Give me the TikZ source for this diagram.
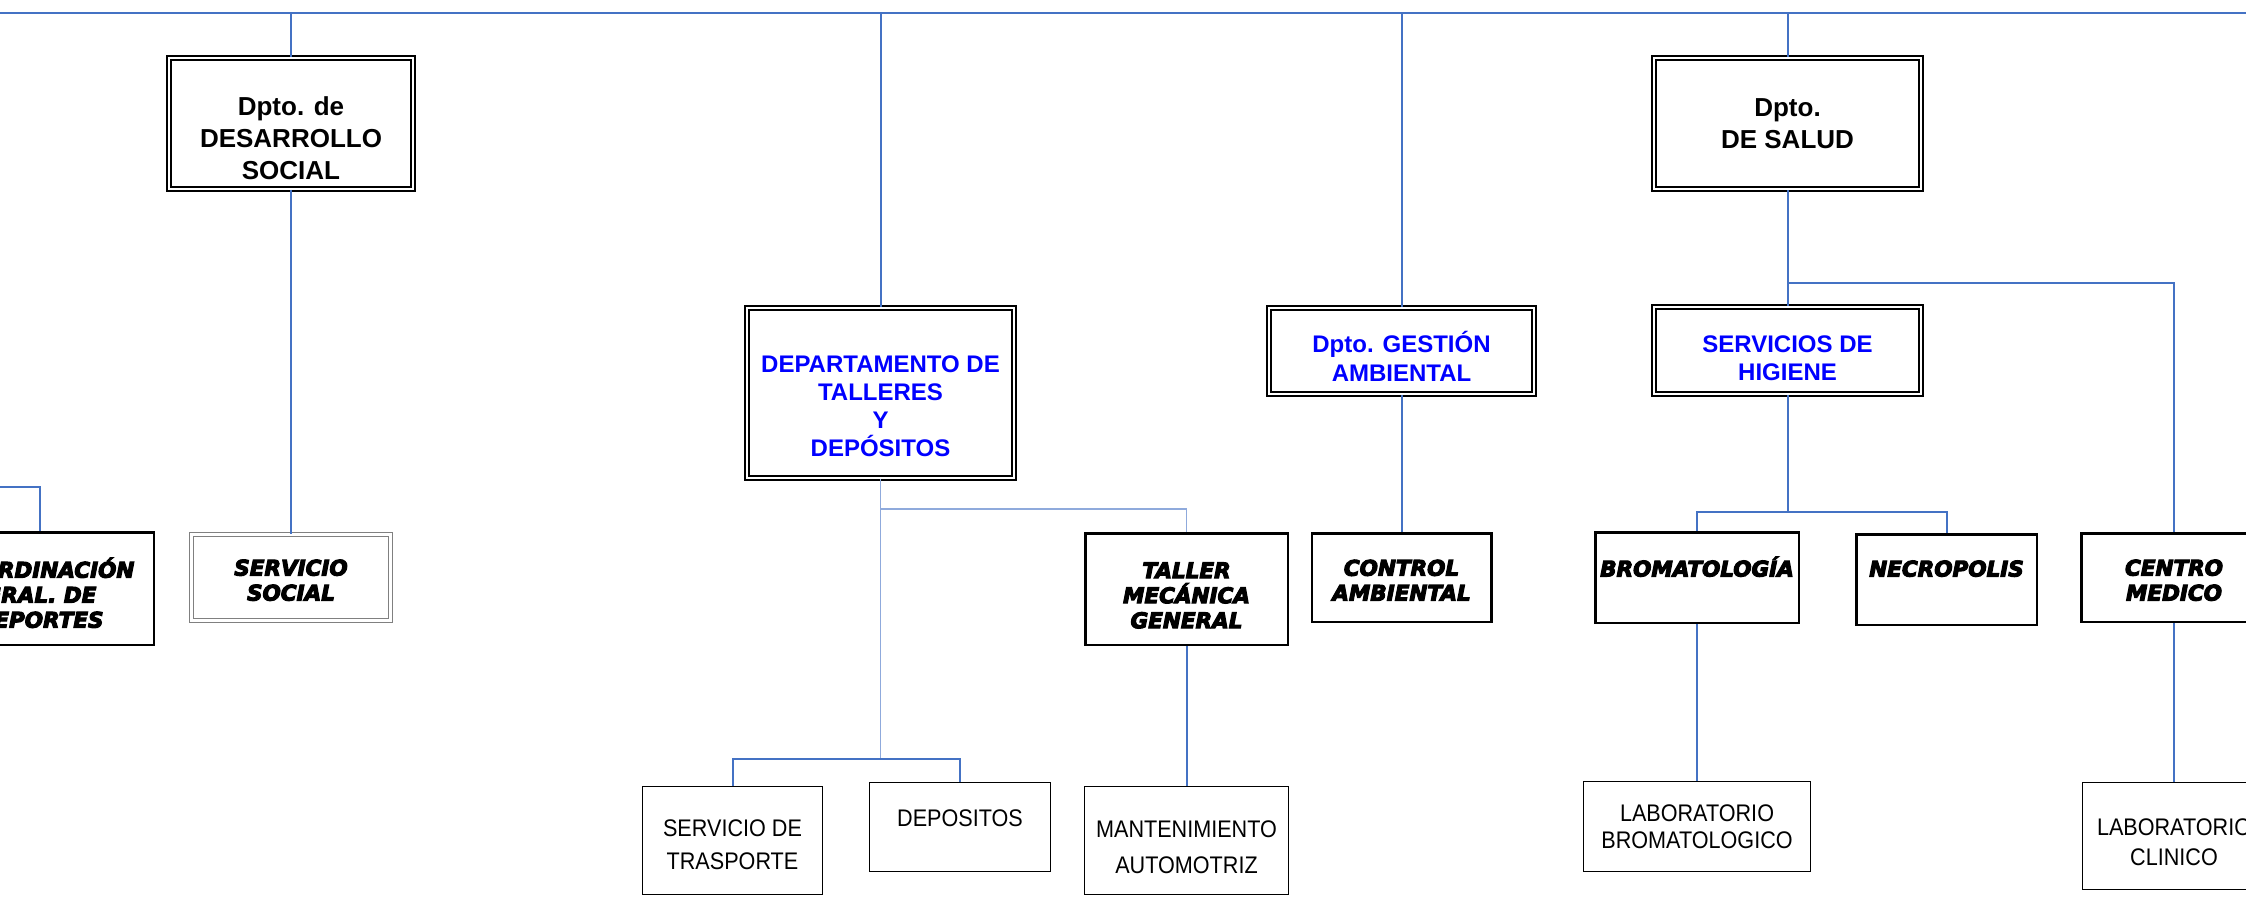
\documentclass[tikz,border=0pt]{standalone}
\usepackage{fontspec}
\setmainfont{Liberation Sans}
\newfontfamily\narrowfont{Liberation Sans}[FakeStretch=0.9]
\newfontfamily\heavyfont{DejaVu Sans Bold Oblique}[FakeBold=5]
\newcommand{\headroom}[1]{\rule{0pt}{#1}}

\definecolor{linkblue}{HTML}{4472C4}
\definecolor{lightblue}{HTML}{8FAADC}
\definecolor{textblue}{HTML}{0000FF}

\begin{document}
\begin{tikzpicture}[x=0.5pt,y=-0.5pt,
	link/.style={linkblue, line width=1pt},
	thin link/.style={lightblue, line width=0.6pt},
	dept/.style={draw, double, line width=0.8pt, double distance=1.4pt, align=center, inner sep=1pt, font=\fontsize{13}{16}\selectfont\bfseries},
	sect/.style={dept, text=textblue, font=\fontsize{12}{14.1}\selectfont\bfseries},
	unit/.style={draw, line width=1.25pt, align=center, inner sep=1pt, font=\heavyfont\fontsize{10.75}{12.5}\selectfont},
	area/.style={draw, line width=0.7pt, align=center, inner sep=1pt, font=\narrowfont\fontsize{12}{15}\selectfont}]

		\useasboundingbox (0,0) rectangle (2246,898);
		\clip (0,0) rectangle (2246,898);

		\coordinate (topL) at (0,13);
		\coordinate (topR) at (2246,13);

		% departamentos
		\node [dept, minimum width=122pt, minimum height=65.5pt] (desarrollo) at (291,123.5) {\headroom{24pt}Dpto. de\\DESARROLLO\\SOCIAL};
		\node [dept, minimum width=133.5pt, minimum height=65.5pt] (salud) at (1787.5,123.5) {Dpto.\\DE SALUD};
		\node [sect, minimum width=133.5pt, minimum height=85pt] (talleres) at (880.5,393) {\headroom{21.5pt}DEPARTAMENTO DE\\TALLERES\\Y\\DEPÓSITOS};
		\node [sect, minimum width=132.5pt, minimum height=43pt] (gestion) at (1401.5,351) {\headroom{16pt}Dpto. GESTIÓN\\AMBIENTAL};
		\node [sect, minimum width=133.5pt, minimum height=43.5pt] (higiene) at (1787.5,350.5) {\headroom{15.8pt}SERVICIOS DE\\HIGIENE};

		% areas
		\node [unit, minimum width=113.75pt, minimum height=56.25pt] (deportes) at (40,588.5) {\headroom{14.3pt}COORDINACIÓN\\GRAL. DE\\DEPORTES};
		\node [unit, draw=gray, double, line width=0.5pt, double distance=1.5pt, minimum width=99.5pt, minimum height=43pt] (social) at (291,577.5) {\headroom{10.7pt}SERVICIO\\SOCIAL};
		\node [unit, minimum width=101.25pt, minimum height=55.75pt] (mecanica) at (1186.5,589) {\headroom{14.3pt}TALLER\\MECÁNICA\\GENERAL};
		\node [unit, minimum width=89.75pt, minimum height=44.25pt] (control) at (1401.5,577.5) {\headroom{10.7pt}CONTROL\\AMBIENTAL};
		\node [unit, minimum width=101.75pt, minimum height=45.25pt, text depth=11pt] (bromatologia) at (1697,577.5) {BROMATOLOGÍA};
		\node [unit, minimum width=90.25pt, minimum height=45.25pt, text depth=11pt] (necropolis) at (1946.5,579.5) {NECROPOLIS};
		\node [unit, minimum width=92.75pt, minimum height=44.25pt] (centro) at (2174,577.5) {\headroom{10.7pt}CENTRO\\MEDICO};

		\node [area, minimum width=89.8pt, minimum height=53.8pt] (trasporte) at (732.5,840.5) {\headroom{12.9pt}SERVICIO DE\\[1.5pt]TRASPORTE};
		\node [area, minimum width=90.3pt, minimum height=44.3pt, text depth=9pt] (depositos) at (960,827) {DEPOSITOS};
		\node [area, minimum width=101.8pt, minimum height=53.8pt] (automotriz) at (1186.5,840.5) {\headroom{15.6pt}MANTENIMIENTO\\[3pt]AUTOMOTRIZ};
		\node [area, minimum width=113.3pt, minimum height=44.8pt] (labbromat) at (1697,826.5) {LABORATORIO\\[-1.5pt]BROMATOLOGICO};
		\node [area, minimum width=91.3pt, minimum height=53.3pt] (labclinico) at (2174,836) {\headroom{14.3pt}LABORATORIO\\CLINICO};

		% lineas
		\draw [link, line width=1.4pt] (topL) -- (topR);
		\foreach \n in {desarrollo,talleres,gestion,salud}
			\draw [link] (\n.north |- topL) -- (\n.north);

		\draw [link] (desarrollo) -- (social);
		\draw [link] (gestion) -- (control);
		\draw [link] (salud) -- (higiene);
		\draw [link] (bromatologia) -- (labbromat);
		\draw [link] (centro) -- (labclinico);
		\draw [link] (mecanica) -- (automotriz);

		\coordinate (deportesin) at (-20,487);
		\draw [link] (deportesin) -| (deportes.north);

		\coordinate (branchsalud) at (1787.5,283);
		\draw [link] (branchsalud) -| (centro.north);
		\coordinate (branchhigiene) at (1787.5,512);
		\draw [link] (higiene.south) -- (branchhigiene);
		\draw [link] (bromatologia.north) |- (branchhigiene) -| (necropolis.north);

		\coordinate (branchtaller) at (880.5,509);
		\coordinate (branchdep) at (880.5,759);
		\draw [thin link] (talleres.south) -- (branchtaller) -| (mecanica.north);
		\draw [thin link] (branchtaller) -- (branchdep);
		\draw [link] (trasporte.north) |- (branchdep) -| (depositos.north);
\end{tikzpicture}
\end{document}
